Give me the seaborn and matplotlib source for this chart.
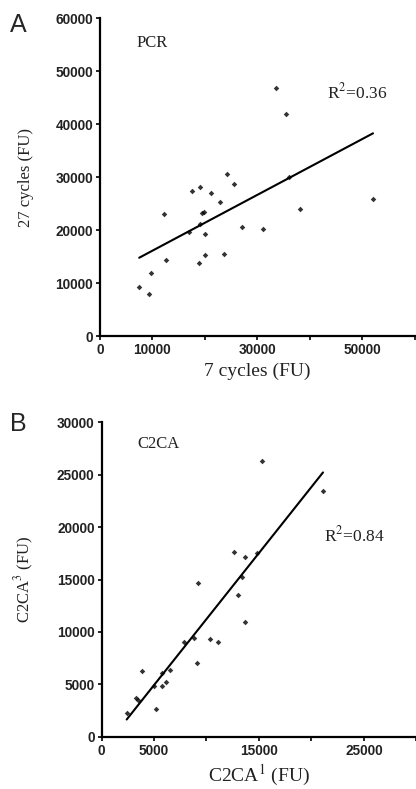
import numpy as np
import pandas as pd
import seaborn as sns
import matplotlib.pyplot as plt

# panel A: PCR, 7 cycles vs 27 cycles (FU)
pcr_7 = [33600, 35400, 36000, 24300, 25500, 17650, 19050, 21150, 52050,
         22850, 12150, 19450, 19850, 38150, 19050, 16900, 20000, 27050,
         31150, 23700, 20000, 18800, 12650, 9700, 7500, 9350]
pcr_27 = [46800, 42000, 30000, 30650, 28650, 27300, 28150, 27000, 25850,
          25300, 23050, 23250, 23350, 24000, 21200, 19700, 19200, 20500,
          20200, 15500, 15250, 13800, 14400, 11950, 9250, 8000]

# panel B: C2CA, C2CA1 vs C2CA3 (FU)
c2ca_1 = [15300, 21100, 12600, 13650, 14850, 13400, 9200, 13000, 13650,
          7850, 8850, 10350, 11100, 9100, 3900, 5800, 6500, 5000, 5750,
          6150, 3250, 3500, 5150, 2400]
c2ca_3 = [26300, 23450, 17650, 17150, 17500, 15250, 14650, 13500, 10950,
          9050, 9400, 9300, 9000, 7050, 6300, 6050, 6350, 4900, 4850,
          5250, 3750, 3500, 2650, 2300]

xticks_a = [0, 10000, 20000, 30000, 40000, 50000, 60000]
xlabels_a = ['0', '10000', '', '30000', '', '50000', '']
yticks_a = [0, 10000, 20000, 30000, 40000, 50000, 60000]
xticks_b = [0, 5000, 10000, 15000, 20000, 25000, 30000]
xlabels_b = ['0', '5000', '', '15000', '', '25000', '']
yticks_b = [0, 5000, 10000, 15000, 20000, 25000, 30000]

df_a = pd.DataFrame({'x': pcr_7, 'y': pcr_27})
df_b = pd.DataFrame({'x': c2ca_1, 'y': c2ca_3})

sns.set_style('ticks')
plt.rcParams['font.family'] = ['Liberation Sans', 'DejaVu Sans']
plt.rcParams['mathtext.fontset'] = 'stix'

fig = plt.figure(figsize=(4.16, 7.89), dpi=100)
ax1 = fig.add_axes([0.240, 0.574, 0.757, 0.403])
ax2 = fig.add_axes([0.244, 0.066, 0.757, 0.399])

serif = ['Liberation Serif', 'DejaVu Serif']


def draw(ax, df, xt, xl, yt, xlab, ylab, name, r2, name_xy, r2_xy):
    sns.regplot(data=df, x='x', y='y', ax=ax, ci=None, truncate=True,
                marker='D', color='black',
                scatter_kws={'s': 8, 'linewidths': 0},
                line_kws={'linewidth': 1.5})
    ax.set_xlim(xt[0], xt[-1])
    ax.set_ylim(yt[0], yt[-1])
    ax.set_xticks(xt)
    ax.set_xticklabels(xl, fontweight='bold')
    ax.set_yticks(yt)
    ax.set_yticklabels([str(v) for v in yt], fontweight='bold')
    ax.tick_params(labelsize=9.8, length=3, width=1.2, pad=2,
                   colors='black', labelcolor='#222222')
    for s in ['left', 'bottom']:
        ax.spines[s].set_linewidth(1.6)
        ax.spines[s].set_color('black')
    sns.despine(ax=ax)
    ax.set_xlabel(xlab, family=serif, fontsize=14, labelpad=4, color='#222222')
    ax.set_ylabel(ylab, family=serif, fontsize=12, labelpad=15, color='#222222')
    ax.text(name_xy[0], name_xy[1], name, family=serif, fontsize=12,
            va='center', color='#222222')
    ax.text(r2_xy[0], r2_xy[1], r2, family=serif, fontsize=12.5,
            va='center', color='#222222')


draw(ax1, df_a, xticks_a, xlabels_a, yticks_a, '7 cycles (FU)', '27 cycles (FU)',
     'PCR', 'R$^2$=0.36', (7000, 55300), (43200, 45900))
draw(ax2, df_b, xticks_b, xlabels_b, yticks_b, 'C2CA$^1$ (FU)', 'C2CA$^3$ (FU)',
     'C2CA', 'R$^2$=0.84', (3400, 27950), (21200, 19200))

fig.text(0.024, 0.968, 'A', fontsize=18, va='center')
fig.text(0.024, 0.462, 'B', fontsize=18, va='center')

fig.savefig('out.png', dpi=100)
